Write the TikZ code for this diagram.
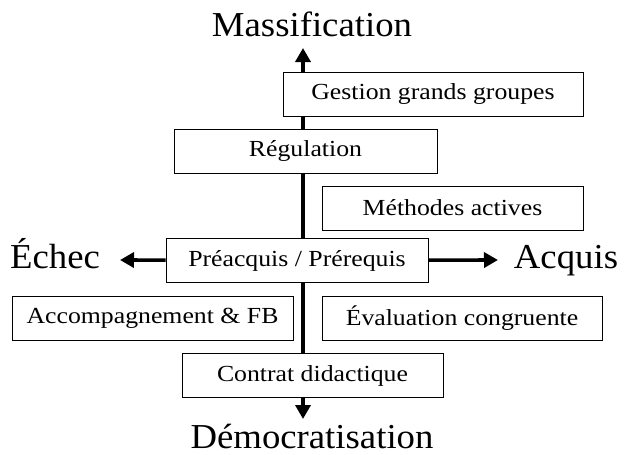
\documentclass[tikz,border=0pt]{standalone}
\usepackage{fontspec}
\setmainfont{Liberation Serif}[FakeStretch=1.05]
\newfontfamily\boxfont{Liberation Serif}[FakeStretch=1.12]
\usetikzlibrary{arrows.meta}
\tikzset{
  pole/.style={font=\fontsize{35}{40}\selectfont, inner sep=0pt},
  levier/.style={
    draw, line width=0.9pt, fill=white, inner sep=0pt,
    minimum height=44pt, font=\boxfont\fontsize{23}{26}\selectfont
  },
  axe/.style={-{Triangle[length=14pt,width=15pt]}, line width=3.6pt}
}

\begin{document}
\begin{tikzpicture}[x=1pt,y=-1pt]
    \useasboundingbox (0,0) rectangle (625,455);
    \coordinate (haut) at (303,48);
    \coordinate (bas) at (303,419);
    \coordinate (centre) at (303,260);
    \coordinate (gauche) at (120,260);
    \coordinate (droite) at (498,260);
    % axe vertical
    \draw[axe] (centre)--(haut);
    \draw[axe] (centre)--(bas);
    \node[pole,anchor=base] (massif) at (312,36) {Massification};
    \node[pole,anchor=base] (demo) at (312,448) {Démocratisation};
    \node[pole,anchor=base] (echec) at (55,268) {Échec};
    \node[pole,anchor=base] (acquis) at (566,268) {Acquis};
    \node[levier,minimum width=300pt] (gestion) at (433,94) {Gestion grands groupes};
    \node[levier,minimum width=263pt] (regul) at (305.5,151) {Régulation};
    \node[levier,minimum width=261pt] (methodes) at (452.5,208) {Méthodes actives};
    \node[levier,minimum width=262pt] (pre) at (297,260.5) {Préacquis / Prérequis};
    \node[levier,minimum width=281pt] (accomp) at (152.5,318.5) {Accompagnement \& FB};
    \node[levier,minimum width=280pt] (evalu) at (462,318.5) {Évaluation congruente};
    \node[levier,minimum width=261pt] (contrat) at (312.5,375.5) {Contrat didactique};
    \draw[axe] (pre)--(gauche);
    \draw[axe] (pre)--(droite);
\end{tikzpicture}
\end{document}
